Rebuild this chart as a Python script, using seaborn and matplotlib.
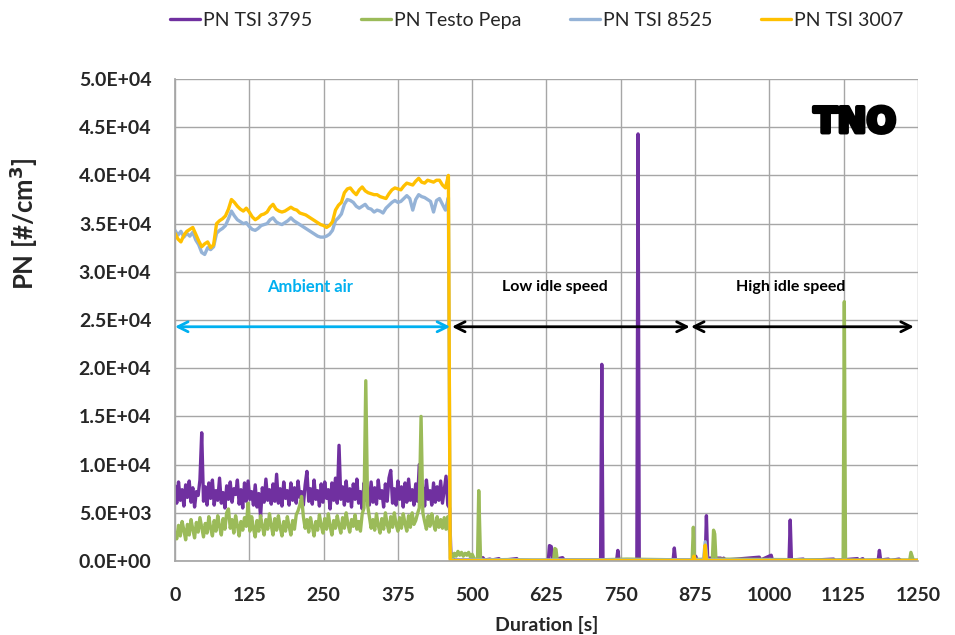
import numpy as np
import pandas as pd
import matplotlib
matplotlib.use("Agg")
import matplotlib.pyplot as plt
import matplotlib.patheffects as pe
import seaborn as sns

# values in thousands of particles per cm3 (x1000 when plotted)
series_names = ["PN TSI 3795", "PN Testo Pepa", "PN TSI 8525", "PN TSI 3007"]
series_colors = ["#7030A0", "#9BBB59", "#95B3D7", "#FFC000"]

# ambient air part, 3 s steps from 0 s
purple_amb = [
    7.8, 6.0, 8.2, 6.3, 7.4, 5.7, 7.9, 6.6, 8.3, 6.1,
    7.6, 5.6, 7.2, 6.8, 8.4, 13.3, 6.2, 7.7, 5.8, 8.1,
    6.5, 8.4, 5.8, 7.3, 6.3, 8.6, 6.0, 7.1, 5.5, 7.8,
    6.4, 8.2, 6.1, 7.5, 6.9, 8.4, 5.9, 7.4, 5.5, 8.1,
    6.2, 8.3, 6.4, 7.2, 5.8, 7.9, 5.6, 7.0, 4.6, 7.6,
    6.1, 8.5, 6.3, 7.4, 5.9, 8.0, 6.2, 9.0, 6.0, 7.5,
    5.7, 8.2, 6.5, 7.3, 5.8, 8.1, 6.3, 7.6, 6.0, 8.3,
    6.6, 7.2, 5.8, 7.9, 9.3, 6.2, 7.5, 5.9, 8.4, 6.4,
    7.3, 5.7, 8.0, 6.1, 8.2, 6.5, 7.4, 5.4, 8.1, 6.3,
    8.6, 6.0, 12.0, 6.4, 7.7, 5.8, 8.3, 6.2, 7.5, 5.6,
    8.0, 6.4, 8.5, 6.0, 7.2, 5.4, 8.1, 6.3, 7.4, 5.8,
    8.2, 6.1, 7.6, 5.9, 8.4, 6.5, 7.3, 5.6, 8.0, 6.2,
    8.6, 9.4, 6.0, 7.5, 5.8, 8.3, 6.4, 7.7, 5.6, 8.1,
    6.1, 8.5, 6.3, 7.4, 5.8, 8.0, 6.2, 10.0, 5.9, 7.6,
    5.7, 8.4, 6.4, 7.3, 5.8, 8.1, 6.1, 7.7, 6.3, 8.3,
    6.0, 7.4, 8.8, 5.8,
]
green_amb = [
    3.0, 2.3, 3.7, 2.6, 4.1, 3.2, 2.2, 3.8, 2.7, 4.3,
    3.3, 2.4, 4.0, 3.0, 4.5, 3.5, 2.5, 3.9, 2.9, 4.6,
    3.4, 2.6, 4.2, 3.1, 4.7, 3.6, 2.7, 4.4, 3.3, 5.0,
    5.4, 3.4, 4.3, 2.9, 4.7, 3.7, 2.6, 4.1, 3.2, 4.5,
    3.6, 6.0, 3.1, 4.6, 3.4, 2.5, 4.2, 3.1, 4.7, 3.6,
    2.7, 4.3, 3.3, 4.9, 3.7, 2.7, 4.4, 3.2, 4.7, 3.5,
    2.6, 4.1, 3.1, 4.6, 3.6, 2.7, 4.2, 3.3, 4.8, 5.2,
    5.8, 6.7, 4.6, 3.4, 4.3, 3.0, 4.5, 3.6, 2.6, 4.1,
    3.2, 4.8, 3.7, 2.9, 4.4, 3.3, 4.9, 3.6, 2.7, 4.2,
    3.4, 4.7, 3.7, 2.9, 4.5, 3.4, 5.0, 3.8, 3.0, 4.3,
    3.6, 4.8, 3.3, 4.1, 3.1, 4.9, 5.5, 18.7, 5.8, 4.6,
    3.4, 4.3, 3.2, 4.9, 3.7, 2.9, 4.4, 3.3, 5.0, 3.8,
    3.0, 4.6, 3.5, 5.0, 3.8, 3.1, 4.5, 3.4, 4.9, 3.9,
    3.1, 4.7, 3.5, 5.0, 3.8, 4.2, 4.9, 5.5, 15.0, 5.0,
    4.1, 3.3, 4.7, 3.6, 4.9, 3.9, 3.2, 4.6, 3.5, 4.3,
    3.4, 4.5, 3.3, 4.6,
]
# ambient air part, 5 s steps from 0 s
blue_amb = [
    34.3, 33.8, 34.2, 33.6, 34.0, 33.7, 34.1, 33.3, 32.8, 32.0,
    31.8, 32.5, 32.3, 32.6, 34.0, 34.3, 34.5, 34.8, 35.5, 36.3,
    35.8, 35.4, 35.2, 35.0, 35.1, 34.7, 34.4, 34.3, 34.5, 34.8,
    34.9, 35.0, 35.4, 35.6, 35.2, 35.0, 34.9, 35.1, 35.3, 35.6,
    35.3, 35.1, 34.9, 34.7, 34.5, 34.3, 34.1, 33.9, 33.7, 33.6,
    33.6, 33.7, 33.9, 34.3, 35.3, 35.6, 36.0, 37.0, 37.5, 37.4,
    37.2, 36.8, 36.6, 36.8, 37.0, 36.6, 36.5, 36.2, 36.4, 36.3,
    36.1, 36.6, 36.9, 37.2, 37.4, 37.2, 37.3, 37.6, 37.9, 37.6,
    36.4, 37.5, 38.0, 37.8, 37.7, 37.5, 37.3, 36.2, 37.4, 37.6,
    37.0, 36.4, 37.7,
]
yellow_amb = [
    34.0, 33.4, 33.1, 33.8, 34.2, 34.4, 34.6, 33.9, 33.2, 32.6,
    32.9, 33.1, 32.5, 32.8, 35.0, 35.3, 35.5, 35.8, 36.5, 37.5,
    37.2, 36.8, 36.5, 36.3, 36.6, 36.2, 35.7, 35.4, 35.6, 35.9,
    36.0, 36.2, 36.7, 37.0, 36.5, 36.3, 36.2, 36.3, 36.5, 36.7,
    36.5, 36.4, 36.1, 36.0, 35.9, 35.7, 35.5, 35.3, 35.1, 34.9,
    34.8, 34.6, 34.8, 35.2, 36.4, 36.9, 37.2, 38.2, 38.6, 38.7,
    38.3, 38.0, 38.5, 38.8, 38.4, 38.2, 38.1, 38.0, 38.0, 37.8,
    37.7, 37.6, 38.1, 38.5, 38.7, 38.6, 38.5, 38.9, 39.2, 39.1,
    39.0, 39.4, 39.7, 39.3, 39.2, 39.5, 39.4, 39.3, 39.5, 39.5,
    39.0, 38.7, 40.0,
]

# engine idle part: (time s, value)
purple_idle_t = [462, 464, 467, 470, 516, 518, 521, 530, 533, 545, 548, 575, 578,
                 628, 630, 633, 635, 652, 655, 716, 718, 720, 743, 745, 747,
                 777, 779, 781, 838, 840, 842, 874, 876, 878, 892, 894, 896,
                 918, 921, 923, 926, 983, 985, 1003, 1005, 1033, 1035, 1037,
                 1057, 1059, 1108, 1110, 1148, 1150, 1157, 1159, 1183, 1185,
                 1187, 1200, 1203, 1218, 1221, 1250]
purple_idle_v = [5.5, 0.9, 0.3, 0.1, 0.1, 0.35, 0.1, 0.2, 0.1, 0.25, 0.05, 0.25, 0.05,
                 0.05, 1.6, 1.5, 0.1, 0.35, 0.1, 0.1, 20.4, 0.1, 0.1, 1.1, 0.1,
                 0.1, 44.3, 0.1, 0.1, 1.35, 0.1, 0.1, 0.5, 0.1, 0.2, 4.7, 0.3,
                 0.3, 0.1, 0.3, 0.1, 0.4, 0.1, 0.6, 0.1, 0.1, 4.25, 0.1,
                 0.2, 0.05, 0.2, 0.05, 0.25, 0.05, 0.25, 0.05, 0.1, 1.1,
                 0.1, 0.2, 0.05, 0.2, 0.05, 0.05]
green_idle_t = [462, 464, 467, 470, 473, 476, 479, 482, 485, 488, 491, 494, 497,
                500, 503, 506, 509, 511, 514, 517, 560, 600, 637, 639, 641, 643,
                700, 760, 870, 872, 874, 904, 906, 908, 910, 1124, 1126, 1128,
                1236, 1238, 1240, 1242, 1250]
green_idle_v = [3.0, 0.6, 0.3, 0.8, 0.5, 1.0, 0.6, 0.9, 0.5, 0.8, 0.6, 0.9, 0.4,
                0.7, 0.3, 0.1, 0.2, 7.3, 0.3, 0.1, 0.15, 0.1, 0.1, 1.3, 1.2, 0.1,
                0.1, 0.2, 0.1, 3.5, 0.2, 0.1, 3.2, 2.8, 0.2, 0.1, 26.9, 0.1,
                0.1, 0.9, 0.5, 0.1, 0.1]
blue_idle_t = [463, 465, 889, 892, 895, 1250]
blue_idle_v = [0.3, 0.1, 0.1, 2.0, 0.1, 0.05]
yellow_idle_t = [463, 871, 873, 875, 890, 892, 894, 1250]
yellow_idle_v = [0.05, 0.05, 0.5, 0.05, 0.05, 1.65, 0.05, 0.05]

x_ticks = [0, 125, 250, 375, 500, 625, 750, 875, 1000, 1125, 1250]
y_ticks = [0, 5000, 10000, 15000, 20000, 25000, 30000, 35000, 40000, 45000, 50000]

frames = []
parts = [
    (purple_amb, 3, purple_idle_t, purple_idle_v),
    (green_amb, 3, green_idle_t, green_idle_v),
    (blue_amb, 5, blue_idle_t, blue_idle_v),
    (yellow_amb, 5, yellow_idle_t, yellow_idle_v),
]
for name, (amb, step, it, iv) in zip(series_names, parts):
    t = list(np.arange(len(amb)) * step) + list(it)
    v = list(amb) + list(iv)
    frames.append(pd.DataFrame({"t": t, "pn": np.array(v) * 1000, "series": name}))
df = pd.concat(frames, ignore_index=True)

sns.set_theme(style="white")
plt.rcParams["font.family"] = ["Lato", "DejaVu Sans"]

fig = plt.figure(figsize=(9.55, 6.35), dpi=100)
ax = fig.add_axes([0.1832, 0.1165, 0.7781, 0.7591])

sns.lineplot(data=df, x="t", y="pn", hue="series", hue_order=series_names,
             palette=series_colors, estimator=None, linewidth=2.4, ax=ax)

ax.set_xlim(0, 1250)
ax.set_ylim(0, 50000)
ax.set_xticks(x_ticks)
ax.set_yticks(y_ticks)
ax.set_yticklabels([f"{v:.1E}" for v in y_ticks])
ax.grid(True, color="#A6A6A6", linewidth=1.0)
ax.set_axisbelow(True)
for side in ["top", "right"]:
    ax.spines[side].set_visible(False)
for side in ["left", "bottom"]:
    ax.spines[side].set_color("#A6A6A6")
ax.tick_params(axis="both", which="both", direction="out", length=5, color="#A6A6A6",
               labelsize=14)
ax.tick_params(axis="y", pad=12)
ax.tick_params(axis="x", pad=14)
for lab in ax.get_xticklabels() + ax.get_yticklabels():
    lab.set_fontweight("bold")

ax.set_xlabel("Duration [s]", fontsize=14, fontweight="bold", labelpad=8)
ax.set_ylabel("PN [#/cm$^\\mathbf{3}$]", fontsize=18.5, fontweight="bold")
ax.yaxis.set_label_coords(-0.182, 0.70)

# phase arrows and labels
arrow_kw = dict(lw=2, shrinkA=0, shrinkB=0, mutation_scale=18)
ax.annotate("", xy=(0, 24300), xytext=(463, 24300),
            arrowprops=dict(arrowstyle="<->", color="#00B0F0", **arrow_kw))
ax.annotate("", xy=(466, 24300), xytext=(866, 24300),
            arrowprops=dict(arrowstyle="<->", color="black", **arrow_kw))
ax.annotate("", xy=(868, 24300), xytext=(1243, 24300),
            arrowprops=dict(arrowstyle="<->", color="black", **arrow_kw))
ax.text(227, 28400, "Ambient air", color="#00B0F0", fontsize=12, fontweight="bold",
        ha="center", va="center")
ax.text(639, 28400, "Low idle speed", color="black", fontsize=11.5, fontweight="bold",
        ha="center", va="center")
ax.text(1035, 28400, "High idle speed", color="black", fontsize=11.5, fontweight="bold",
        ha="center", va="center")
ax.text(1144, 45500, "TNO", color="black", fontsize=25, fontweight="heavy",
        family="DejaVu Sans", ha="center", va="center",
        path_effects=[pe.withStroke(linewidth=3, foreground="black")])

sns.move_legend(ax, "center", bbox_to_anchor=(0.487, 1.122), ncol=4, frameon=False,
                title=None, fontsize=14, handlelength=1.55, handletextpad=0.15,
                columnspacing=2.5)

fig.savefig("out.png", dpi=100)
